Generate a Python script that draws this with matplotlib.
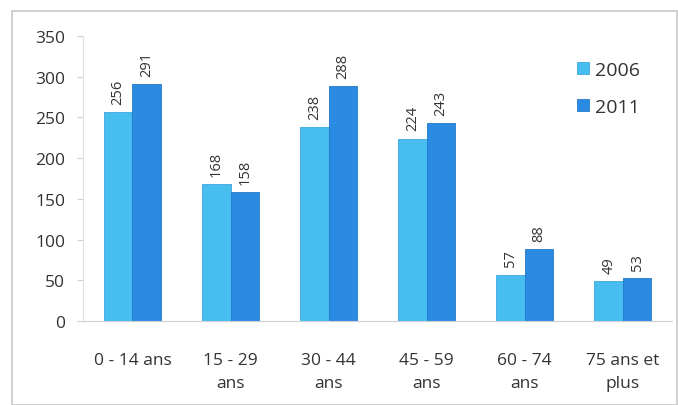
import matplotlib.pyplot as plt
import numpy as np
from matplotlib.patches import Rectangle

categories = ["0 - 14 ans", "15 - 29\nans", "30 - 44\nans", "45 - 59\nans", "60 - 74\nans", "75 ans et\nplus"]
values_2006 = [256, 168, 238, 224, 57, 49]
values_2011 = [291, 158, 288, 243, 88, 53]
series_labels = ["2006", "2011"]

plt.rcParams['font.family'] = ['Open Sans', 'DejaVu Sans']

fig = plt.figure(figsize=(6.78, 4.06), dpi=100)
ax = fig.add_axes([0.123, 0.207, 0.868, 0.702])

# chart frame
fig.patches.append(Rectangle((0.018, 0.0), 0.98, 0.97, transform=fig.transFigure,
                             fill=False, edgecolor='#c8c8c8', linewidth=1.2))

x = np.arange(len(categories))
w = 0.29
b1 = ax.bar(x - w / 2, values_2006, width=w, color='#47bdf0', edgecolor='#3aa8dc',
            linewidth=0.6, label=series_labels[0])
b2 = ax.bar(x + w / 2, values_2011, width=w, color='#2b8ae2', edgecolor='#2378c8',
            linewidth=0.6, label=series_labels[1])

# value labels above each bar, rotated
for bars, vals in ((b1, values_2006), (b2, values_2011)):
    for rect, v in zip(bars, vals):
        ax.text(rect.get_x() + rect.get_width() / 2, v + 10, str(v), rotation=90,
                ha='center', va='bottom', fontsize=10.5, color='#333333')

ax.set_xlim(-0.5, len(categories) - 0.5)
ax.set_ylim(0, 350)
ax.set_yticks(range(0, 351, 50))
ax.set_xticks(x)
ax.set_xticklabels(categories, fontsize=12.5, color='#333333', linespacing=1.6)
ax.tick_params(axis='y', labelsize=12.5, colors='#333333', length=4, color='#d0d0d0', pad=9)
ax.tick_params(axis='x', length=0, pad=22)
for s in ('top', 'right'):
    ax.spines[s].set_visible(False)
ax.spines['left'].set_color('#e0e0e0')
ax.spines['bottom'].set_color('#d0d0d0')

ax.legend(loc='upper right', bbox_to_anchor=(0.975, 0.975), frameon=False, fontsize=14,
          handlelength=0.6, handleheight=0.6, labelspacing=1.0, handletextpad=0.3,
          labelcolor='#333333')

fig.savefig('out.png', dpi=100)
